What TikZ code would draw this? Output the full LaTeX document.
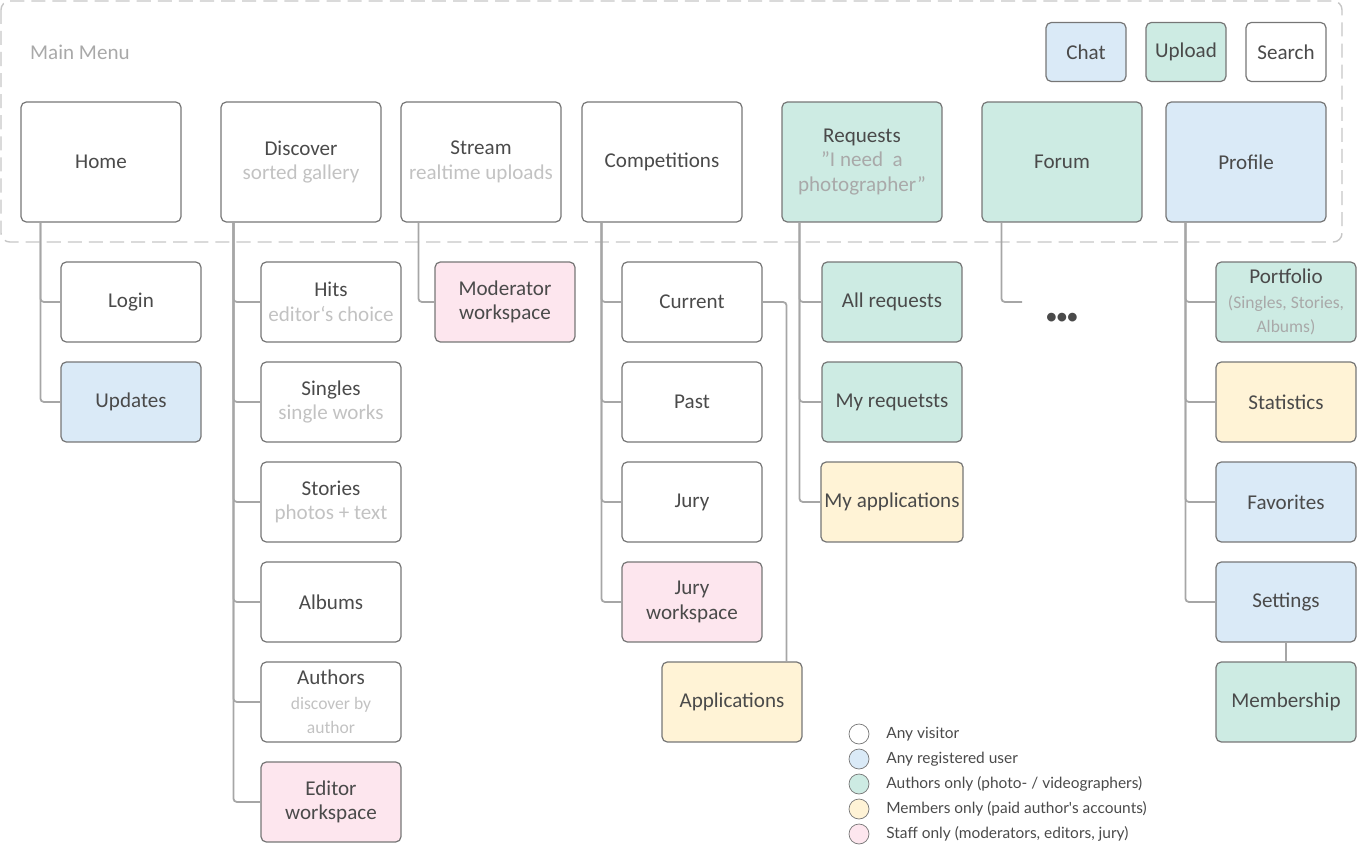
\documentclass[tikz,border=0pt]{standalone}
\usepackage{fontspec}
\setmainfont{Carlito}
\newfontfamily\legendfont{Lato}
\usetikzlibrary{positioning}
\definecolor{smline}{HTML}{767676}
\definecolor{smlink}{HTML}{A6A6A6}
\definecolor{smtext}{HTML}{4A4A4A}
\definecolor{smsub}{HTML}{C2C2C2}
\definecolor{smsubdark}{HTML}{A9A9A9}
\definecolor{smblue}{HTML}{DAEAF7}
\definecolor{smgreen}{HTML}{CDEBE3}
\definecolor{smyellow}{HTML}{FFF3D6}
\definecolor{smpink}{HTML}{FDE6EE}
\definecolor{smframe}{HTML}{C6C6C6}
\tikzset{
  page/.style={draw=smline,line width=0.7pt,rounded corners=3pt,align=center,
               text=smtext,font=\fontsize{12}{14}\selectfont,inner sep=2pt},
  top/.style={page,minimum width=3.2cm,minimum height=2.4cm},
  sub/.style={page,minimum width=2.8cm,minimum height=1.6cm},
  tool/.style={page,minimum width=1.6cm,minimum height=1.18cm},
  blu/.style={fill=smblue},
  grn/.style={fill=smgreen},
  yel/.style={fill=smyellow},
  pnk/.style={fill=smpink},
  link/.style={draw=smlink,line width=1pt,rounded corners=2pt},
  dot/.style={circle,draw=smline,line width=0.4pt,minimum size=0.4cm,inner sep=0pt},
  key/.style={font=\legendfont\fontsize{8.8}{10}\selectfont,text=smtext,anchor=west,inner sep=0pt},
}
\newcommand{\hint}[1]{\\{\color{smsub}#1}}
\newcommand{\darkhint}[1]{\\{\color{smsubdark}#1}}
\newcommand{\smallhint}[2]{\\{\color{#1}\fontsize{10}{11}\selectfont #2}}
\begin{document}
\begin{tikzpicture}[x=0.02cm,y=-0.02cm]
  \useasboundingbox (0,0) rectangle (1357,845);
  % main menu frame
  \draw[smframe,line width=0.8pt,dash pattern=on 8pt off 4pt,rounded corners=5pt]
    (1,1) rectangle (1342,242);
  \node[anchor=west,text=smsubdark,font=\fontsize{12}{14}\selectfont] (mainmenu) at (24,52) {Main Menu};
  \node[tool,blu] (chat) at (1086,52) {Chat};
  \node[tool,grn] (upload) at (1186,52) {Upload};
  \node[tool] (search) at (1286,52) {Search};
  % top level
  \node[top] (home) at (101,162) {Home};
  \node[top] (discover) at (301,162) {Discover\hint{sorted gallery}};
  \node[top] (stream) at (481,162) {Stream\hint{realtime uploads}};
  \node[top] (competitions) at (662,162) {Competitions};
  \node[top,grn] (requests) at (862,162) {Requests\darkhint{\symbol{34}I need\ \ a}\darkhint{photographer\symbol{34}}};
  \node[top,grn] (forum) at (1062,162) {Forum};
  \node[top,blu] (profile) at (1246,162) {Profile};
  % home
  \node[sub] (login) at (131,302) {Login};
  \node[sub,blu] (updates) at (131,402) {Updates};
  % discover
  \node[sub] (hits) at (331,302) {Hits\hint{editor`s choice}};
  \node[sub] (singles) at (331,402) {Singles\hint{single works}};
  \node[sub] (stories) at (331,502) {Stories\hint{photos + text}};
  \node[sub] (albums) at (331,602) {Albums};
  \node[sub] (authors) at (331,702) {Authors\smallhint{smsub}{discover by}\smallhint{smsub}{author}};
  \node[sub,pnk] (editor) at (331,802) {Editor\\workspace};
  % stream
  \node[sub,pnk] (moderator) at (505,302) {Moderator\\workspace};
  % competitions
  \node[sub] (current) at (692,302) {Current};
  \node[sub] (past) at (692,402) {Past};
  \node[sub] (jury) at (692,502) {Jury};
  \node[sub,pnk] (juryws) at (692,602) {Jury\\workspace};
  \node[sub,yel] (applications) at (732,702) {Applications};
  % requests
  \node[sub,grn] (allreq) at (892,302) {All requests};
  \node[sub,grn] (myreq) at (892,402) {My requetsts};
  \node[sub,yel] (myapp) at (892,502) {My applications};
  % forum
  \node[text=smtext,font=\fontsize{14}{14}\selectfont] (more) at (1062,319) {\textbullet\kern-1pt\textbullet\kern-1pt\textbullet};
  % profile
  \node[sub,grn] (portfolio) at (1286,302) {Portfolio\smallhint{smsubdark}{(Singles, Stories,}\smallhint{smsubdark}{Albums)}};
  \node[sub,yel] (statistics) at (1286,402) {Statistics};
  \node[sub,blu] (favorites) at (1286,502) {Favorites};
  \node[sub,blu] (settings) at (1286,602) {Settings};
  \node[sub,grn] (membership) at (1286,702) {Membership};
  % trunks
  \coordinate (hometrunk) at ([xshift=0.4cm]home.south west);
  \coordinate (distrunk) at ([xshift=0.26cm]discover.south west);
  \coordinate (streamtrunk) at ([xshift=0.36cm]stream.south west);
  \coordinate (comptrunk) at ([xshift=0.4cm]competitions.south west);
  \coordinate (reqtrunk) at ([xshift=0.36cm]requests.south west);
  \coordinate (forumtrunk) at ([xshift=0.4cm]forum.south west);
  \coordinate (forumend) at (1022,302);
  \coordinate (proftrunk) at ([xshift=0.4cm]profile.south west);
  \draw[link] (hometrunk) |- (login.west);
  \draw[link] (hometrunk) |- (updates.west);
  \foreach \n in {hits,singles,stories,albums,authors,editor}
    \draw[link] (distrunk) |- (\n.west);
  \draw[link] (streamtrunk) |- (moderator.west);
  \foreach \n in {current,past,jury,juryws}
    \draw[link] (comptrunk) |- (\n.west);
  \draw[link] (current.east) -| ([xshift=-0.32cm]applications.north east);
  \foreach \n in {allreq,myreq,myapp}
    \draw[link] (reqtrunk) |- (\n.west);
  \draw[link] (forumtrunk) |- (forumend);
  \foreach \n in {portfolio,statistics,favorites,settings}
    \draw[link] (proftrunk) |- (\n.west);
  \draw[link] (settings) -- (membership);
  % legend
  \node[dot] (kvisitor) at (859,734) {};
  \node[dot,blu] (kregistered) at (859,759) {};
  \node[dot,grn] (kauthors) at (859,784) {};
  \node[dot,yel] (kmembers) at (859,809) {};
  \node[dot,pnk] (kstaff) at (859,834) {};
  \node[key] at (886,734) {Any visitor};
  \node[key] at (886,759) {Any registered user};
  \node[key] at (886,784) {Authors only (photo- / videographers)};
  \node[key] at (886,809) {Members only (paid author's accounts)};
  \node[key] at (886,834) {Staff only (moderators, editors, jury)};
\end{tikzpicture}
\end{document}
